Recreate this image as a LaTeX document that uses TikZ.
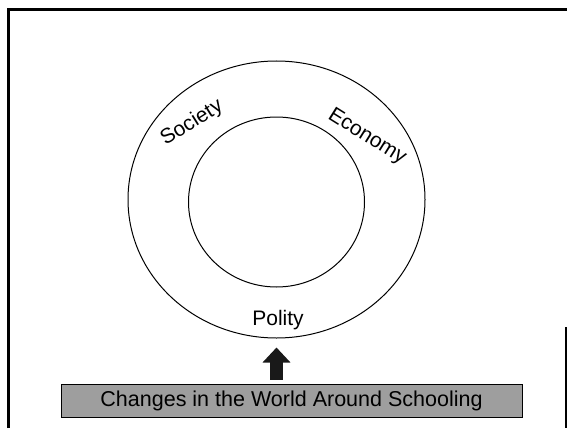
\documentclass[tikz,border=0pt]{standalone}
\usepackage{fontspec}
\setmainfont{Liberation Sans}
\usetikzlibrary{shapes.geometric,arrows.meta}

\begin{document}
\begin{tikzpicture}[x=1pt, y=-1pt,
    ring/.style={draw=black, ellipse, inner sep=0pt, line width=1pt},
    ringtext/.style={font=\fontsize{21}{24}\selectfont, inner sep=0pt},
    worldbox/.style={draw=black, fill=black!38, line width=0.9pt, minimum width=461pt,
                     minimum height=33pt, inner sep=0pt, font=\fontsize{21.5}{24}\selectfont},
    bigarrow/.style={draw=black!90, line width=13pt, -{Triangle[width=27pt,length=15pt]}}]
    \useasboundingbox (0,0) rectangle (567,428);
    % frame
    \draw[line width=2.2pt] (8.5,428) -- (8.5,9.5) -- (567,9.5);
    \draw[line width=1.5pt] (566,327) -- (566,428);
    % rings
    \node[ring, minimum width=297pt, minimum height=277pt] (outer) at (276.5,199.5) {};
    \node[ring, minimum width=176pt, minimum height=170pt] (inner) at (276.5,202) {};
    \node[ringtext, rotate=32]  (society) at (192,123) {Society};
    \node[ringtext, rotate=-32] (economy) at (367,137) {Economy};
    \node[ringtext, anchor=base] (polity) at (278,325) {Polity};
    % world around schooling
    \node[worldbox] (world) at (291.5,400.5) {Changes in the World Around Schooling};
    \coordinate (base) at (outer.south |- world.north);
    \draw[bigarrow] ([yshift=4pt]base) -- ([yshift=-9pt]outer.south);
\end{tikzpicture}
\end{document}
